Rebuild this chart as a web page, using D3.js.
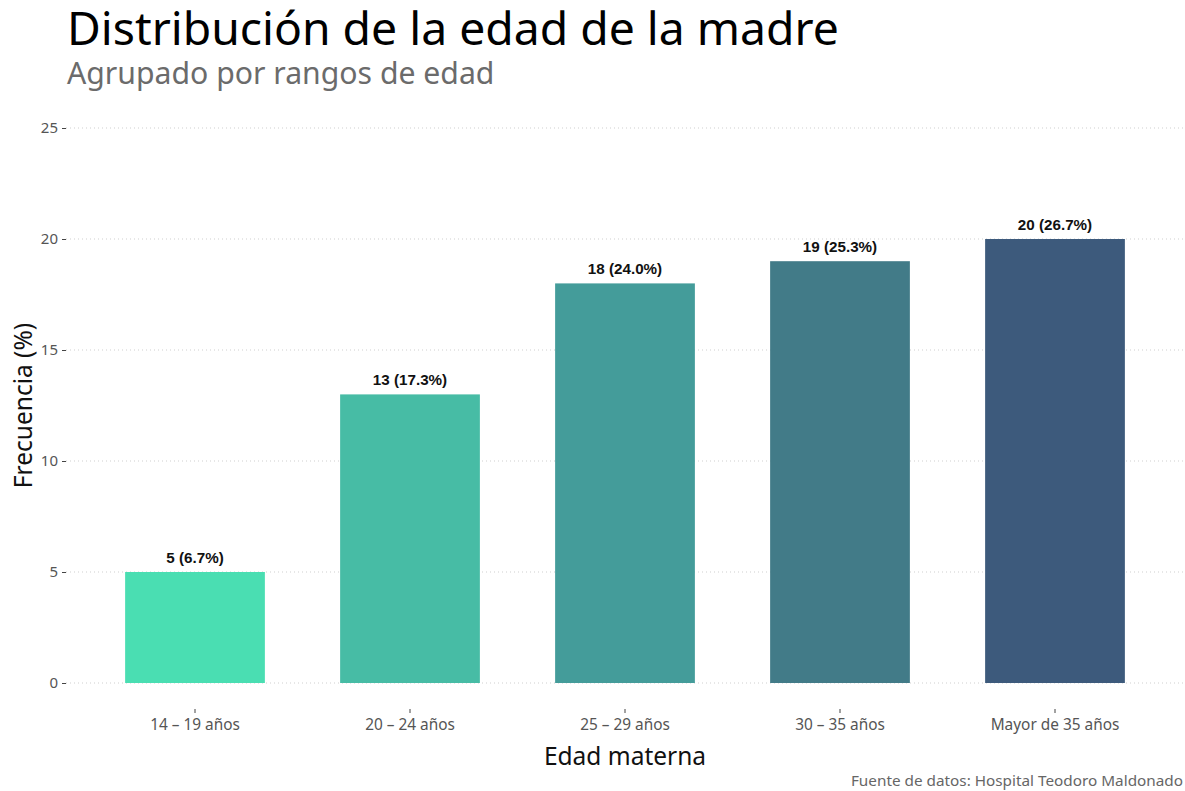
<!DOCTYPE html>
<html>
<head>
<meta charset="utf-8">
<script src="https://cdn.jsdelivr.net/npm/d3@7"></script>
<style>
  html, body { margin: 0; padding: 0; background: #fff; }
  svg { display: block; }
</style>
</head>
<body>
<svg id="chart" width="1185" height="791"></svg>
<script>
// Age groups of the mother and their counts
const categories = ["14 – 19 años", "20 – 24 años", "25 – 29 años", "30 – 35 años", "Mayor de 35 años"];
const counts = [5, 13, 18, 19, 20];
const percents = [6.7, 17.3, 24.0, 25.3, 26.7];
const barColors = ["#4ADEB2", "#47BCA5", "#449C9A", "#427B88", "#3D5A7C"];
const yTicks = [0, 5, 10, 15, 20, 25];

const svg = d3.select("#chart");
const uiFont = "'Noto Sans', 'Open Sans', sans-serif";

const panel = { left: 66, right: 1184, top: 118, bottom: 709 };

const x = d3.scaleBand()
  .domain(categories)
  .range([panel.left, panel.right])
  .paddingInner(0.35)
  .paddingOuter(0.275);

const y = d3.scaleLinear()
  .domain([0, 25])
  .range([683, 128]);

// Horizontal dotted gridlines
svg.append("g")
  .selectAll("line")
  .data(yTicks)
  .join("line")
  .attr("x1", panel.left)
  .attr("x2", panel.right)
  .attr("y1", d => y(d))
  .attr("y2", d => y(d))
  .attr("stroke", "#cfcfcf")
  .attr("stroke-width", 1)
  .attr("stroke-dasharray", "1,3");

// Y axis
const yAxis = svg.append("g")
  .attr("transform", `translate(${panel.left},0)`)
  .call(d3.axisLeft(y).tickValues(yTicks).tickSize(4).tickPadding(4));
yAxis.select(".domain").remove();
yAxis.selectAll(".tick line").attr("stroke", "#444").attr("stroke-width", 1);
yAxis.selectAll(".tick text")
  .attr("font-family", uiFont)
  .attr("font-size", 15)
  .attr("fill", "#555");

// X axis
const xAxis = svg.append("g")
  .attr("transform", `translate(0,${panel.bottom})`)
  .call(d3.axisBottom(x).tickSize(4).tickPadding(6));
xAxis.select(".domain").remove();
xAxis.selectAll(".tick line").attr("stroke", "#444").attr("stroke-width", 1);
xAxis.selectAll(".tick text")
  .attr("font-family", uiFont)
  .attr("font-size", 15.4)
  .attr("fill", "#555");

// Bars
svg.append("g")
  .selectAll("rect")
  .data(categories)
  .join("rect")
  .attr("x", d => x(d))
  .attr("width", x.bandwidth())
  .attr("y", (d, i) => y(counts[i]))
  .attr("height", (d, i) => y(0) - y(counts[i]))
  .attr("fill", (d, i) => barColors[i]);

// Value labels above bars
svg.append("g")
  .selectAll("text")
  .data(categories)
  .join("text")
  .attr("x", d => x(d) + x.bandwidth() / 2)
  .attr("y", (d, i) => y(counts[i]) - 9)
  .attr("text-anchor", "middle")
  .attr("font-family", "'Liberation Sans', Arial, sans-serif")
  .attr("font-weight", "bold")
  .attr("font-size", 15.2)
  .attr("fill", "#111")
  .text((d, i) => `${counts[i]} (${percents[i].toFixed(1)}%)`);

// Title and subtitle
svg.append("text")
  .attr("x", 67).attr("y", 45)
  .attr("font-family", uiFont)
  .attr("font-size", 46.3)
  .attr("fill", "#000")
  .text("Distribución de la edad de la madre");

svg.append("text")
  .attr("x", 67).attr("y", 84)
  .attr("font-family", uiFont)
  .attr("font-size", 30.2)
  .attr("fill", "#6b6b6b")
  .text("Agrupado por rangos de edad");

// Axis titles
svg.append("text")
  .attr("x", (panel.left + panel.right) / 2)
  .attr("y", 765)
  .attr("text-anchor", "middle")
  .attr("font-family", uiFont)
  .attr("font-size", 24.5)
  .attr("fill", "#111")
  .text("Edad materna");

svg.append("text")
  .attr("transform", `translate(32,${(128 + 683) / 2}) rotate(-90)`)
  .attr("text-anchor", "middle")
  .attr("font-family", uiFont)
  .attr("font-size", 24.5)
  .attr("fill", "#111")
  .text("Frecuencia (%)");

// Caption
svg.append("text")
  .attr("x", 1183).attr("y", 786)
  .attr("text-anchor", "end")
  .attr("font-family", uiFont)
  .attr("font-size", 15.3)
  .attr("fill", "#666")
  .text("Fuente de datos: Hospital Teodoro Maldonado");
</script>
</body>
</html>
